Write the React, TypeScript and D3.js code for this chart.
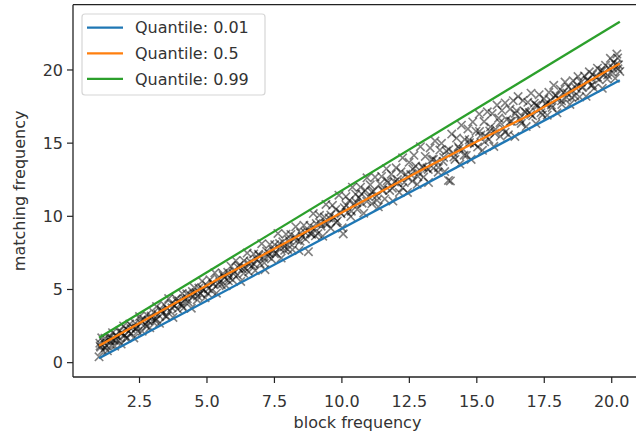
import React from 'react';
import * as d3 from 'd3';

const W = 636;
const H = 435;

const xTicks = [2.5, 5, 7.5, 10, 12.5, 15, 17.5, 20];
const yTicks = [0, 5, 10, 15, 20];

const legendLabels = ['Quantile: 0.01', 'Quantile: 0.5', 'Quantile: 0.99'];
const lineColors = ['#1f77b4', '#ff7f0e', '#2ca02c'];

const q01X = [1.0, 20.3];
const q01Y = [0.3, 19.3];
const q50X = [1.0, 5.5, 11.0, 13.3, 16.0, 17.0, 20.3];
const q50Y = [1.15, 5.8, 11.25, 13.5, 16.05, 16.95, 20.45];
const q99X = [1.0, 20.3];
const q99Y = [1.7, 23.3];

// [block frequency, matching frequency] — spread of the observations
const observations: [number, number][] = [
  [1.00,0.40],[1.03,1.33],[1.06,1.06],[1.10,1.70],[1.13,0.83],[1.18,1.38],[1.22,1.67],[1.27,1.17],[1.31,0.81],[1.36,1.71],
  [1.40,1.50],[1.45,1.20],[1.50,2.05],[1.54,1.54],[1.58,1.13],[1.63,1.88],[1.68,1.78],[1.72,1.52],[1.77,2.17],[1.82,1.27],
  [1.86,2.01],[1.91,2.51],[1.95,1.85],[2.00,2.30],[2.05,1.70],[2.10,2.15],[2.14,2.64],[2.19,1.99],[2.24,2.44],[2.29,1.69],
  [2.34,2.69],[2.39,2.39],[2.44,2.14],[2.50,3.15],[2.55,2.70],[2.60,2.15],[2.66,2.96],[2.71,2.61],[2.77,3.27],[2.82,2.87],
  [2.88,2.38],[2.93,3.18],[2.98,2.83],
  [3.03,3.43],[3.08,2.88],[3.13,3.83],[3.19,3.29],[3.24,2.69],[3.30,3.60],[3.35,3.35],[3.41,3.96],[3.47,3.17],[3.52,3.72],
  [3.58,4.38],[3.63,3.53],[3.69,4.04],[3.74,3.09],[3.80,3.90],[3.86,4.36],[3.91,3.66],[3.97,4.22],[4.02,4.02],[4.08,4.73],
  [4.13,3.73],[4.19,4.34],[4.25,4.70],[4.30,4.15],[4.36,4.66],[4.42,3.72],[4.47,4.52],[4.53,5.13],[4.59,4.79],[4.64,4.29],
  [4.70,5.10],[4.76,4.71],[4.82,5.57],[4.87,4.97],[4.93,4.43],[4.99,5.29],[5.05,5.05],[5.11,5.66],[5.17,4.92],[5.23,5.43],
  [5.29,6.14],[5.35,4.75],[5.41,5.76],[5.47,5.52],[5.53,5.33],[5.59,6.09],[5.65,5.80],[5.71,5.26],[5.77,6.17],[5.83,5.83],
  [5.89,6.59],[5.95,5.65],
  [6.01,6.26],[6.07,6.97],[6.13,5.98],[6.19,6.64],[6.25,5.55],[6.31,6.41],[6.37,6.97],[6.43,6.43],[6.49,7.49],[6.55,6.20],
  [6.61,6.91],[6.67,6.62],[6.73,7.43],[6.79,6.29],[6.85,7.05],[6.91,7.41],[6.97,6.77],[7.03,8.13],[7.09,7.19],[7.15,6.35],
  [7.21,7.61],[7.27,7.27],[7.33,8.08],[7.39,7.09],[7.45,7.70],[7.51,8.06],[7.57,7.47],[7.63,8.83],[7.69,7.84],[7.75,7.15],
  [7.81,8.26],[7.87,7.92],[7.93,8.78],[7.99,7.74],[8.05,8.35],[8.11,8.76],[8.17,7.72],[8.23,8.43],[8.29,9.29],[8.35,8.35],
  [8.41,7.66],[8.47,8.87],[8.53,8.63],[8.59,9.39],[8.65,8.45],[8.71,9.01],[8.76,7.58],[8.82,9.37],[8.88,8.78],[8.94,10.19],
  [8.99,9.19],
  [9.05,9.50],[9.11,8.81],[9.17,10.07],[9.23,9.33],[9.29,8.64],[9.35,9.95],[9.41,10.81],[9.47,9.47],[9.53,9.88],[9.59,9.19],
  [9.65,10.75],[9.71,9.91],[9.77,10.47],[9.83,9.68],[9.89,11.44],[9.95,10.25],[10.01,9.21],[10.05,8.80],[10.09,10.59],[10.15,11.35],
  [10.21,10.26],[10.27,11.07],[10.33,9.98],[10.39,11.99],[10.45,10.85],[10.51,11.51],[10.57,10.47],[10.63,11.28],[10.69,11.99],[10.75,10.90],
  [10.81,10.21],[10.87,11.77],[10.93,12.63],[10.99,11.34],[11.05,12.15],[11.11,10.86],[11.17,11.72],[11.23,12.68],[11.29,11.39],[11.35,10.65],
  [11.41,12.21],[11.47,12.72],[11.53,11.78],[11.59,11.19],[11.65,13.25],[11.71,12.31],[11.77,11.77],[11.83,12.88],[11.89,11.04],[11.95,12.35],
  [12.01,13.31],[12.07,12.27],[12.13,11.63],[12.19,13.04],[12.25,14.00],[12.31,12.31],[12.37,12.87],[12.43,11.63],[12.49,13.69],[12.55,12.85],
  [12.61,12.41],[12.67,14.17],[12.73,13.43],[12.79,12.19],[12.85,12.95],[12.91,14.76],[12.97,13.37],[13.03,12.68],[13.09,14.09],[13.15,13.30],
  [13.21,12.31],[13.27,14.67],[13.33,13.88],[13.39,13.29],[13.45,15.15],[13.51,13.76],[13.57,13.02],[13.63,14.53],[13.69,14.99],[13.75,13.75],
  [13.81,13.06],[13.87,14.47],[13.95,12.45],[14.02,12.42],[14.07,15.62],[14.13,14.33],[14.19,13.89],[14.25,15.35],[14.31,14.76],[14.37,13.57],
  [14.43,16.23],[14.49,14.59],
  [14.55,15.25],[14.61,14.16],[14.67,15.97],[14.73,15.03],[14.79,13.89],[14.85,16.45],[14.91,14.96],[14.97,15.82],[15.03,14.73],[15.09,16.99],
  [15.15,15.55],[15.21,14.51],[15.27,16.47],[15.33,15.48],[15.39,17.14],[15.45,15.25],[15.51,16.11],[15.57,17.02],[15.63,14.78],[15.69,15.94],
  [15.75,17.60],[15.81,16.71],[15.87,15.47],[15.93,17.23],[15.99,15.99],[16.05,17.75],[16.11,16.61],[16.17,15.57],[16.23,17.33],[16.29,16.49],
  [16.35,17.90],[16.41,15.46],[16.47,17.22],[16.53,18.18],[16.59,16.69],[16.65,16.35],[16.71,17.91],[16.77,17.17],[16.83,16.13],[16.89,17.79],
  [16.95,17.10],[17.01,18.41],[17.07,16.87],[17.13,17.73],[17.19,16.34],[17.25,17.55],[17.31,18.31],[17.37,17.37],[17.43,16.93],
  [17.49,18.04],[17.55,17.65],[17.61,16.91],[17.67,18.47],[17.73,17.93],[17.79,17.44],[17.85,18.95],[17.91,18.26],[17.97,17.07],[18.03,18.03],
  [18.09,18.69],[18.15,17.65],[18.21,18.46],[18.27,19.17],[18.33,18.13],[18.39,18.84],[18.45,17.65],[18.51,18.66],[18.57,19.27],[18.63,18.23],
  [18.69,18.74],[18.75,19.55],[18.81,18.16],[18.87,19.17],[18.93,18.83],[18.99,19.59],[19.05,18.20],[19.11,19.31],[19.17,19.87],[19.23,18.93],
  [19.29,19.69],[19.35,18.75],[19.41,19.51],[19.47,20.12],[19.53,19.33],[19.59,19.94],[19.65,18.75],[19.71,19.71],[19.77,20.32],[19.83,19.38],
  [19.89,20.14],[19.95,20.80],[20.01,19.86],[20.07,20.52],[20.13,19.43],[20.19,21.09],[20.25,20.35],[20.30,19.90],[20.22,20.82],[20.15,20.35],
];

// [block frequency, matching frequency] — dense core near the median
const coreObservations: [number, number][] = [
  [1.04,1.14],[1.23,1.03],[1.42,1.72],[1.61,1.51],[1.80,2.00],[1.99,1.69],[2.18,2.33],[2.37,2.32],[2.56,2.91],[2.75,2.50],
  [2.94,3.04],[3.13,2.98],[3.32,3.57],[3.51,3.16],[3.70,3.75],[3.89,4.19],[4.08,3.88],[4.27,4.37],[4.46,4.86],[4.65,4.55],
  [4.84,5.04],[5.03,4.73],[5.22,5.37],[5.41,5.36],[5.60,5.95],[5.79,5.59],[5.98,6.08],[6.17,6.47],[6.36,6.11],[6.55,6.75],
  [6.74,6.74],[6.93,7.33],[7.12,6.82],[7.31,7.46],[7.50,7.45],[7.69,8.14],[7.88,7.68],[8.07,8.17],[8.26,8.61],[8.45,8.30],
  [8.64,8.89],[8.83,8.83],[9.02,8.67],[9.21,9.51],[9.40,9.50],[9.59,10.09],[9.78,9.58],[9.97,10.17],[10.16,10.76],[10.35,10.35],
  [10.54,10.94],[10.73,11.53],[10.92,11.02],[11.11,11.66],[11.30,11.10],[11.49,11.79],[11.68,12.43],[11.87,11.92],[12.06,12.51],[12.25,11.95],
  [12.44,12.64],[12.63,13.23],[12.82,12.72],[13.01,13.36],[13.20,13.20],[13.39,13.89],[13.58,13.33],[13.77,14.02],[13.96,14.56],[14.15,14.05],
  [14.34,14.64],[14.53,14.18],[14.72,15.22],[14.91,15.01],[15.10,15.80],[15.29,15.09],[15.48,15.83],[15.67,15.67],[15.86,16.41],[16.05,15.75],
  [16.24,16.49],[16.43,17.03],[16.62,16.52],[16.81,17.11],[17.00,16.95],[17.19,17.59],[17.38,17.08],[17.57,17.72],[17.76,17.61],[17.95,18.25],
  [18.14,17.89],[18.33,18.43],[18.52,18.12],[18.71,18.96],[18.90,18.80],[19.09,19.29],[19.28,18.98],[19.47,19.52],[19.66,19.96],[19.85,19.65],
  [20.04,20.14],[20.23,20.08],
];

const FONT = 'DejaVu Sans, sans-serif';

export default function App() {
  const left = 73, right = 646, top = 4.7, bottom = 377;
  const x = d3.scaleLinear().domain([0.035, 21.27]).range([left, right]);
  const y = d3.scaleLinear().domain([-0.98, 24.46]).range([bottom, top]);

  const line = d3.line<[number, number]>().x(d => x(d[0])).y(d => y(d[1]));
  const series = [
    q01X.map((v, i) => [v, q01Y[i]] as [number, number]),
    q50X.map((v, i) => [v, q50Y[i]] as [number, number]),
    q99X.map((v, i) => [v, q99Y[i]] as [number, number]),
  ];

  const allObs = observations.concat(coreObservations);
  const s = 4.2;
  const marker = `M${-s},${-s}L${s},${s}M${-s},${s}L${s},${-s}`;

  return (
    <svg width={W} height={H} style={{ position: 'absolute', left: 0, top: 0, display: 'block', background: '#fff' }}
      fontFamily={FONT}>
      <rect x={0} y={0} width={W} height={H} fill="#fff" />
      <g>
        {allObs.map((d, i) => (
          <path key={i} d={marker} transform={`translate(${x(d[0])},${y(d[1])})`}
            stroke="#000" strokeOpacity={0.5} strokeWidth={1.6} fill="none" />
        ))}
      </g>
      <g>
        {series.map((pts, i) => (
          <path key={i} d={line(pts) || ''} stroke={lineColors[i]} strokeWidth={2.3} fill="none" />
        ))}
      </g>
      <g stroke="#222" strokeWidth={1.3} fill="none">
        <line x1={left} y1={top} x2={left} y2={bottom} />
        <line x1={left} y1={bottom} x2={W} y2={bottom} />
        <line x1={left} y1={top} x2={W} y2={top} />
      </g>
      <g>
        {xTicks.map(t => (
          <g key={t} transform={`translate(${x(t)},${bottom})`}>
            <line y1={0} y2={6} stroke="#222" strokeWidth={1.2} />
            <text y={29.5} textAnchor="middle" fontSize={16} fill="#333">{t.toFixed(1)}</text>
          </g>
        ))}
      </g>
      <g>
        {yTicks.map(t => (
          <g key={t} transform={`translate(${left},${y(t)})`}>
            <line x1={0} x2={-6} stroke="#222" strokeWidth={1.2} />
            <text x={-10} dy="0.36em" textAnchor="end" fontSize={16} fill="#333">{t}</text>
          </g>
        ))}
      </g>
      <text x={357.5} y={428} textAnchor="middle" fontSize={16} fill="#333">block frequency</text>
      <text transform={`translate(25,${(top + bottom) / 2}) rotate(-90)`} textAnchor="middle" fontSize={16} fill="#333">matching frequency</text>
      <g>
        <rect x={82} y={14} width={183} height={81} rx={3} fill="#fff" fillOpacity={0.8} stroke="#d6d6d6" strokeWidth={1.2} />
        {legendLabels.map((lab, i) => (
          <g key={lab} transform={`translate(0,${27.7 + i * 25.6})`}>
            <line x1={87} x2={123} stroke={lineColors[i]} strokeWidth={2.3} />
            <text x={135} dy="0.36em" fontSize={16} fill="#333">{lab}</text>
          </g>
        ))}
      </g>
    </svg>
  );
}
